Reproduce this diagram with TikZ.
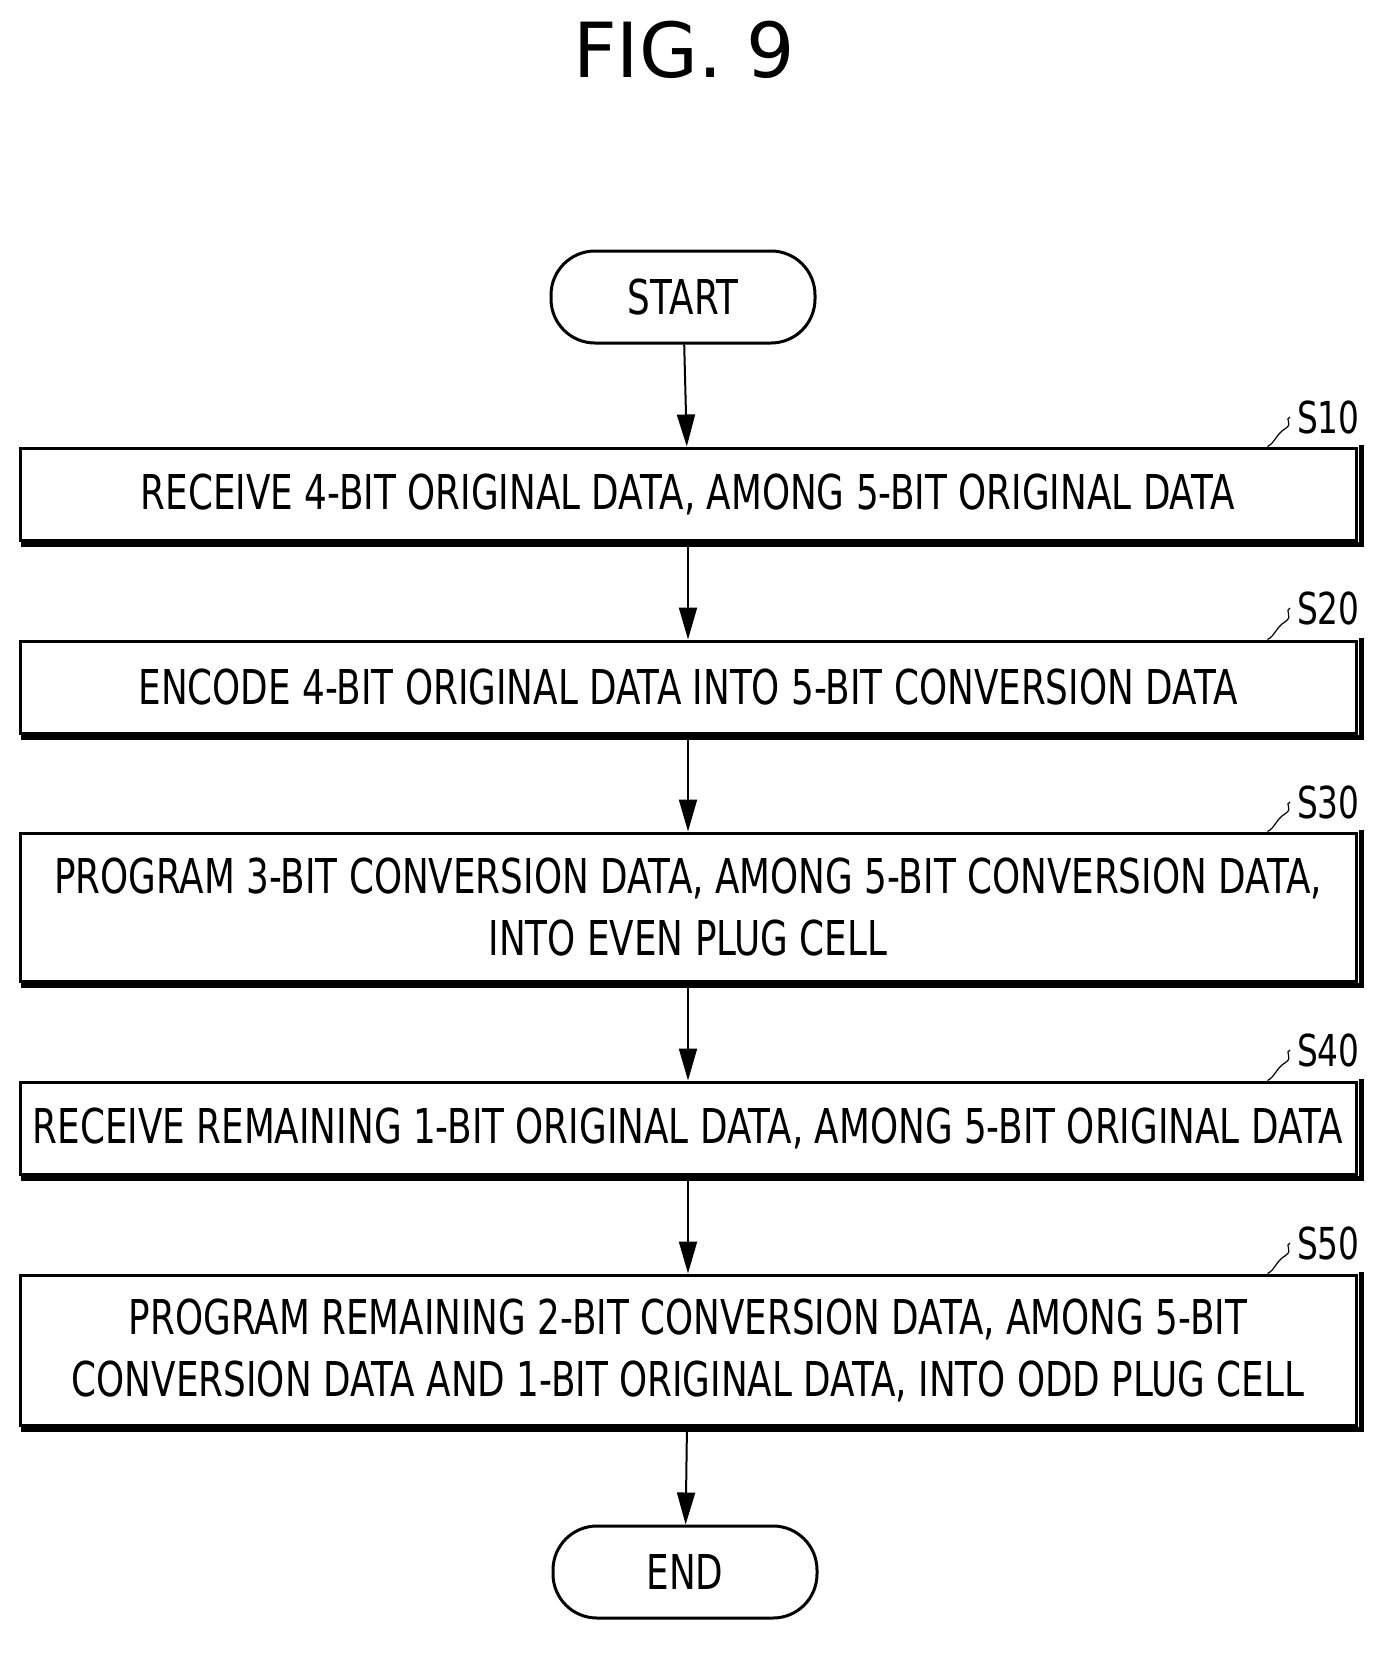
\documentclass[tikz,border=0pt]{standalone}
\usepackage{fontspec}
\usetikzlibrary{arrows.meta}
\setmainfont{DejaVu Sans}[FakeStretch=0.745]
\newfontfamily\titlefont{DejaVu Sans}
\begin{document}
\begin{tikzpicture}[x=0.5pt,y=-0.5pt,
 box/.style={draw,line width=1.5pt,minimum width=668pt,align=center,font=\fontsize{24}{31}\selectfont,
   append after command={\pgfextra{\draw[line width=2.5pt] ([xshift=1.8pt,yshift=1pt]\tikzlastnode.north east)--([xshift=1.8pt,yshift=-1.5pt]\tikzlastnode.south east)--([xshift=1pt,yshift=-1.5pt]\tikzlastnode.south west);}}},
 term/.style={draw,line width=1.5pt,rounded corners=22pt,minimum width=132pt,minimum height=46pt,font=\fontsize{24}{28}\selectfont},
 arr/.style={-{Triangle[length=16pt,width=9pt]},line width=1pt},
 lab/.style={font=\fontsize{22}{26}\selectfont,anchor=west}]
\useasboundingbox (0,0) rectangle (1389,1654);
\node[font=\fontsize{38}{44}\titlefont] (t) at (684,50) {FIG. 9};
\node[term] (st) at (683,297) {START};
\node[box,minimum height=46pt] (s10) at (688,494) {RECEIVE 4-BIT ORIGINAL DATA, AMONG 5-BIT ORIGINAL DATA};
\node[box,minimum height=46pt] (s20) at (688,687) {ENCODE 4-BIT ORIGINAL DATA INTO 5-BIT CONVERSION DATA};
\node[box,minimum height=74pt] (s30) at (688,907) {PROGRAM 3-BIT CONVERSION DATA, AMONG 5-BIT CONVERSION DATA,\\INTO EVEN PLUG CELL};
\node[box,minimum height=46pt] (s40) at (688,1128) {RECEIVE REMAINING 1-BIT ORIGINAL DATA, AMONG 5-BIT ORIGINAL DATA};
\node[box,minimum height=75pt] (s50) at (688,1350) {PROGRAM REMAINING 2-BIT CONVERSION DATA, AMONG 5-BIT\\CONVERSION DATA AND 1-BIT ORIGINAL DATA, INTO ODD PLUG CELL};
\node[term] (en) at (685,1572) {END};
\draw[arr] (st) -- (s10);
\draw[arr] (s10) -- (s20);
\draw[arr] (s20) -- (s30);
\draw[arr] (s30) -- (s40);
\draw[arr] (s40) -- (s50);
\draw[arr] (s50) -- (en);
\foreach \n/\t/\y in {s10/S10/417,s20/S20/608,s30/S30/802,s40/S40/1050,s50/S50/1243}{
  \node[lab] (l\n) at (1290,\y) {\t};
  \draw[line width=0.6pt] ([xshift=-45pt]\n.north east) .. controls +(8,-4) and +(-10,6) .. ++(18,-18) .. controls +(8,-5) and +(-6,2) .. (l\n.west);
}
\end{tikzpicture}
\end{document}
